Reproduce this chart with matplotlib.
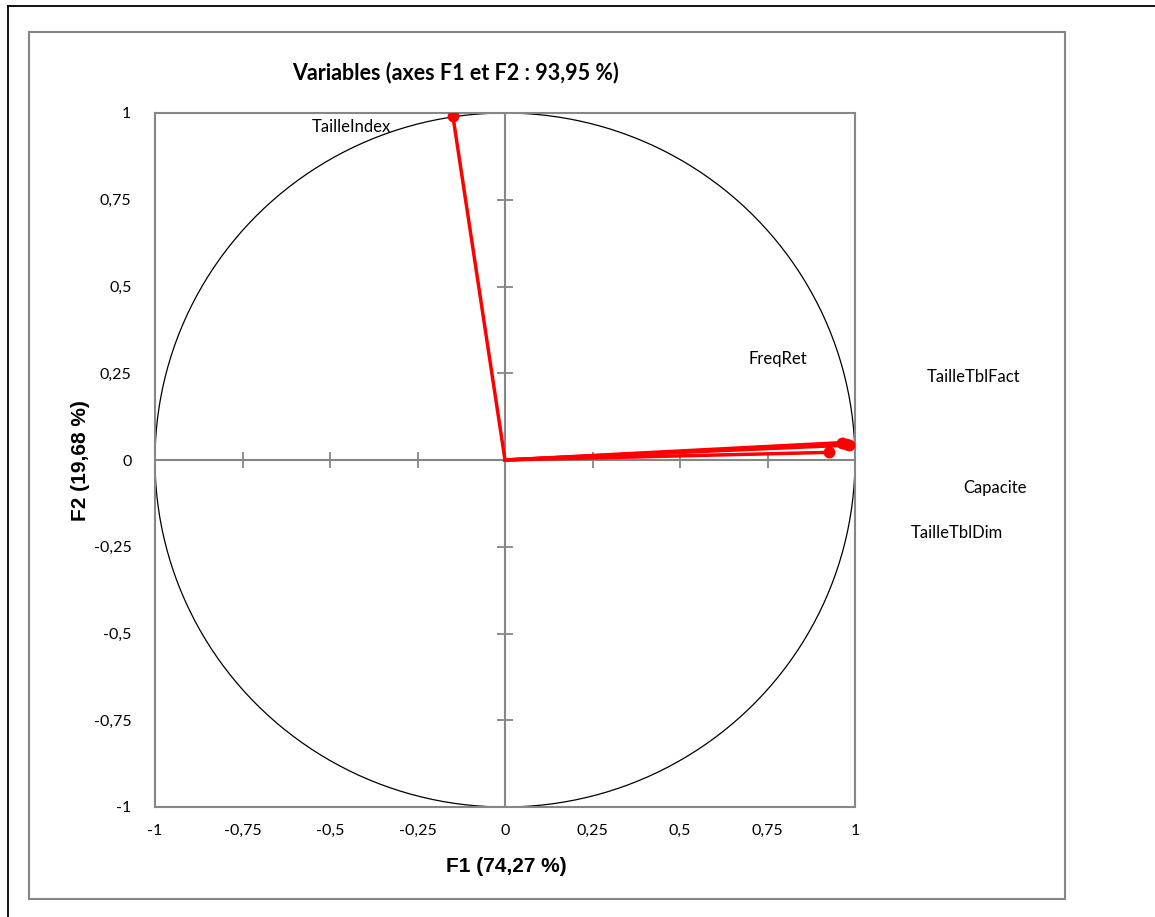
import numpy as np
import matplotlib.pyplot as plt
from matplotlib.lines import Line2D
from matplotlib.patches import Rectangle

# variable coordinates on F1 / F2
var_names = ['TailleIndex', 'FreqRet', 'TailleTblFact', 'Capacite', 'TailleTblDim']
f1 = [-0.149, 0.962, 0.975, 0.984, 0.926]
f2 = [0.992, 0.050, 0.046, 0.043, 0.022]
# where the labels sit (as placed in the original chart)
lab_x = [-0.44, 0.78, 1.34, 1.40, 1.29]
lab_y = [0.96, 0.29, 0.24, -0.08, -0.21]

ticks = [-1, -0.75, -0.5, -0.25, 0, 0.25, 0.5, 0.75, 1]
tick_labels = ['-1', '-0,75', '-0,5', '-0,25', '0', '0,25', '0,5', '0,75', '1']

gray = '#868686'

fig = plt.figure(figsize=(11.55, 9.17), dpi=100)
fig.patch.set_facecolor('white')

# outer frames
fig.add_artist(Line2D([8/1155, 8/1155], [0, 1 - 6/917], color='black', lw=1.3))
fig.add_artist(Line2D([8/1155, 1], [1 - 6/917, 1 - 6/917], color='black', lw=1.3))
fig.add_artist(Rectangle((29/1155, 1 - 899/917), (1065 - 29)/1155, (899 - 32)/917,
                         fill=False, edgecolor=gray, lw=1.5))

ax = fig.add_axes([155/1155, 1 - 807/917, 700/1155, 694/917])
ax.set_xlim(-1, 1)
ax.set_ylim(-1, 1)
for s in ax.spines.values():
    s.set_color(gray)
    s.set_linewidth(1.5)

ax.set_xticks(ticks)
ax.set_yticks(ticks)
ax.set_xticklabels(tick_labels, fontfamily='Lato', fontsize=11.5)
ax.set_yticklabels(tick_labels, fontfamily='Lato', fontsize=11.5)
ax.tick_params(length=0, pad=12)
ax.tick_params(axis='y', pad=17)

# zero axes with crossing ticks
ax.axhline(0, color=gray, lw=1.5, zorder=1)
ax.axvline(0, color=gray, lw=1.5, zorder=1)
ax.plot(ticks[1:-1], [0] * 7, ls='none', marker='|', ms=12, mew=1.3, color=gray, zorder=1)
ax.plot([0] * 7, ticks[1:-1], ls='none', marker='_', ms=12, mew=1.3, color=gray, zorder=1)

# correlation circle
t = np.linspace(0, 2 * np.pi, 400)
ax.plot(np.cos(t), np.sin(t), color='black', lw=0.9, zorder=2)

for x, y in zip(f1, f2):
    ax.plot([0, x], [0, y], color='#ff0000', lw=2.5, zorder=3)
ax.plot(f1, f2, ls='none', marker='o', ms=7.5, color='#ff0000', zorder=4)

for name, x, y in zip(var_names, lab_x, lab_y):
    ax.text(x, y, name, ha='center', va='center', fontfamily='Lato', fontsize=12,
            clip_on=False)

fig.text(455/1155, 1 - 73/917, 'Variables (axes F1 et F2 : 93,95 %)', ha='center', va='center',
         fontfamily='Lato', fontweight='bold', fontsize=15.5)
fig.text(506/1155, 1 - 866/917, 'F1 (74,27 %)', ha='center', va='center',
         fontfamily='Liberation Sans', fontweight='bold', fontsize=15)
fig.text(81/1155, 1 - 461/917, 'F2 (19,68 %)', ha='center', va='center', rotation=90,
         fontfamily='Liberation Sans', fontweight='bold', fontsize=15)

fig.savefig('out.png', dpi=100, facecolor='white')
